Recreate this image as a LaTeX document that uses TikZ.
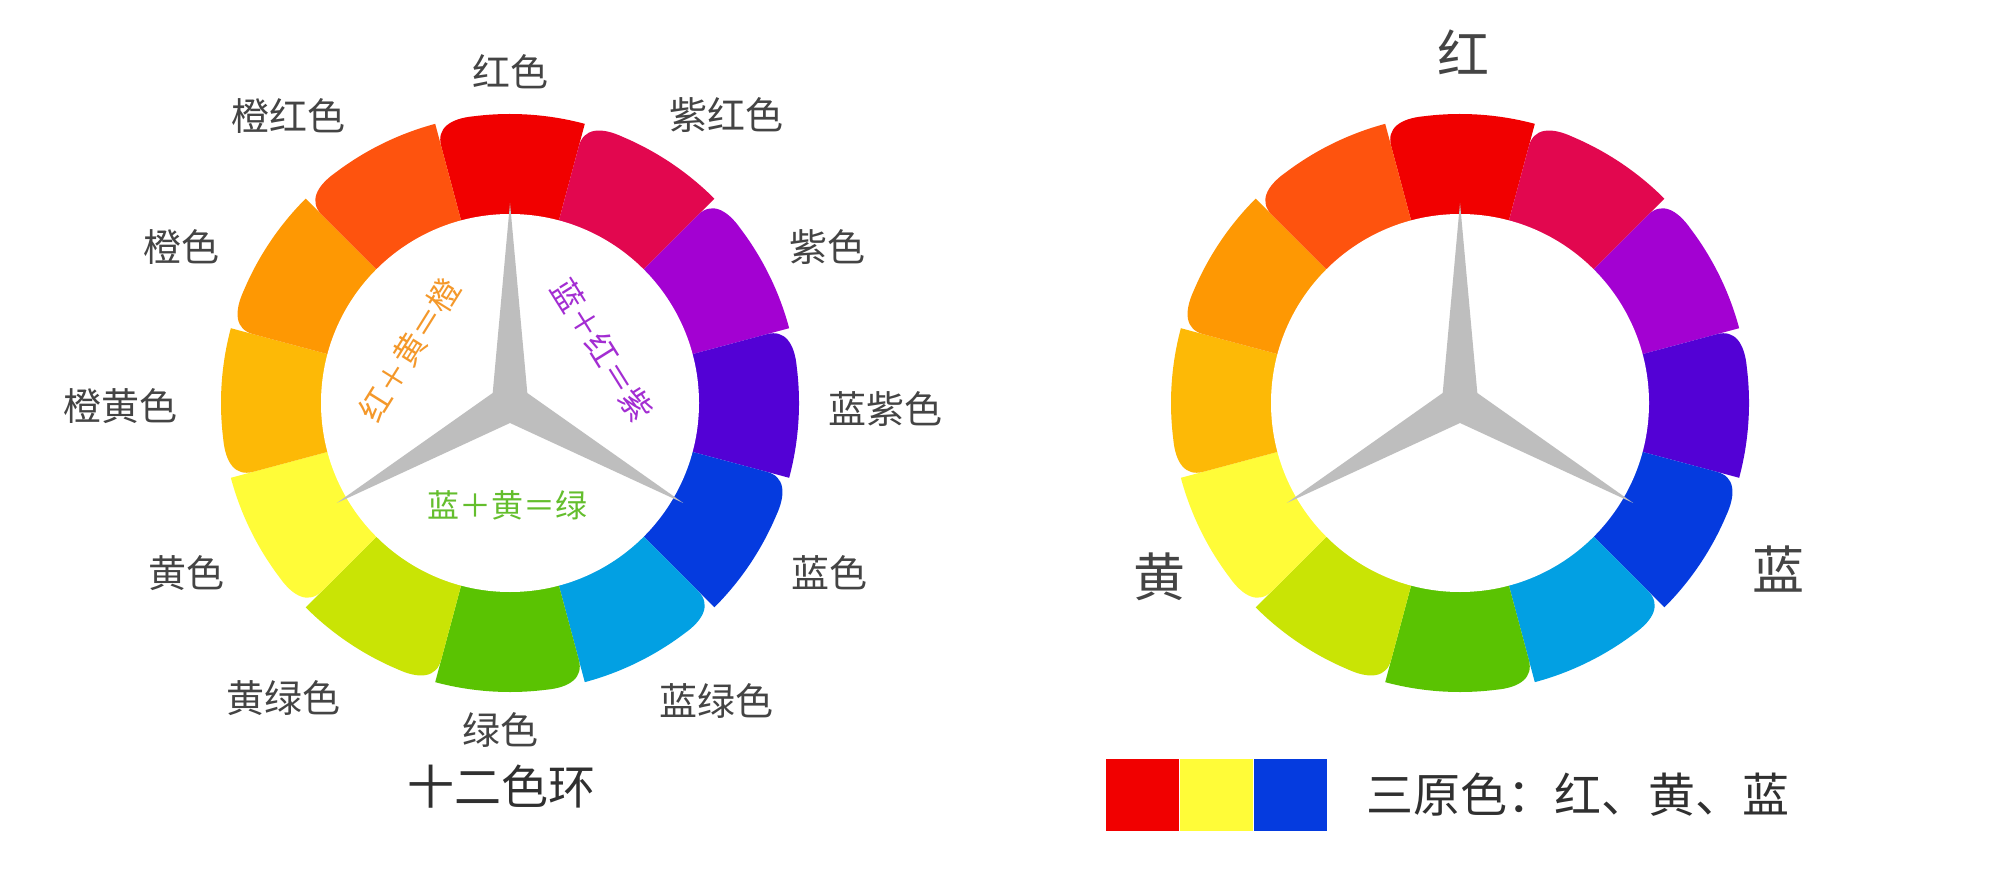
\documentclass[tikz,border=0pt]{standalone}
\usepackage{fontspec}
\setmainfont{Noto Sans CJK SC}
\usetikzlibrary{positioning}
\definecolor{wheelred}{RGB}{241,0,0}
\definecolor{wheelrose}{RGB}{226,7,79}
\definecolor{wheelpurple}{RGB}{163,1,210}
\definecolor{wheelviolet}{RGB}{83,1,213}
\definecolor{wheelblue}{RGB}{5,59,223}
\definecolor{wheelcyan}{RGB}{2,160,227}
\definecolor{wheelgreen}{RGB}{90,195,2}
\definecolor{wheellime}{RGB}{201,228,5}
\definecolor{wheelyellow}{RGB}{255,252,56}
\definecolor{wheelamber}{RGB}{253,185,6}
\definecolor{wheelorange}{RGB}{254,152,3}
\definecolor{wheelvermil}{RGB}{254,83,14}
\definecolor{stargray}{RGB}{190,190,190}
\definecolor{labelgray}{RGB}{68,68,68}
\definecolor{titlegray}{RGB}{48,48,48}
\definecolor{mixorange}{RGB}{244,152,42}
\definecolor{mixpurple}{RGB}{163,45,210}
\definecolor{mixgreen}{RGB}{100,190,45}

\begin{document}
\begin{tikzpicture}[
  x=0.5pt, y=0.5pt,
  node distance=19.5pt,
  petal/.style={fill=#1},
  hub/.style={fill=white},
  spokes/.style={fill=stargray},
  hue/.style={inner sep=0pt, text=labelgray, font=\fontsize{19}{22}\selectfont},
  primary/.style={inner sep=0pt, text=labelgray, font=\fontsize{26}{30}\selectfont},
  caption/.style={inner sep=0pt, text=titlegray, font=\fontsize{23.5}{28}\selectfont},
  mixlabel/.style={inner sep=0pt, text=#1, font=\fontsize{16}{19}\selectfont},
  swatch/.style={inner sep=0pt, minimum width=36.5pt, minimum height=36pt, fill=#1},
]
  \useasboundingbox (0,0) rectangle (2016,874);

  % the two wheels
  \foreach \cx in {510,1460} {
    \begin{scope}[shift={(\cx,471)}]
      \foreach \a/\c in {90/wheelred,60/wheelrose,30/wheelpurple,0/wheelviolet,-30/wheelblue,-60/wheelcyan,-90/wheelgreen,-120/wheellime,-150/wheelyellow,180/wheelamber,150/wheelorange,120/wheelvermil}
        \fill[petal=\c] (0,0) -- (\a-15:289) arc[start angle=\a-15, end angle=\a+7, radius=289]
          .. controls (\a+12:291) and (\a+15:284) .. (\a+15:266) -- cycle;
      \fill[hub] (0,0) circle[radius=189];
      \fill[spokes] (90:200) -- (30:20) -- (-30:200) -- (-90:20) -- (210:200) -- (150:20) -- cycle;
    \end{scope}
  }

  % twelve names round the left wheel
  \node[hue] (red)    at (510,802) {红色};
  \node[hue] (rose)   at (726,759) {紫红色};
  \node[hue] (purple) at (827,627) {紫色};
  \node[hue] (violet) at (885,465) {蓝紫色};
  \node[hue] (blue)   at (829,301) {蓝色};
  \node[hue] (cyan)   at (716,173) {蓝绿色};
  \node[hue] (green)  at (500,144) {绿色};
  \node[hue] (lime)   at (283,176) {黄绿色};
  \node[hue] (yellow) at (186,301) {黄色};
  \node[hue] (amber)  at (120,468) {橙黄色};
  \node[hue] (orange) at (181,627) {橙色};
  \node[hue] (vermil) at (288,758) {橙红色};

  \node[caption] (ring) at (501,87) {十二色环};

  % mixing rules inside the left wheel
  \node[mixlabel=mixorange, rotate=58]  (mixo) at (410,524) {红＋黄＝橙};
  \node[mixlabel=mixpurple, rotate=-58] (mixp) at (602,524) {蓝＋红＝紫};
  \node[mixlabel=mixgreen]              (mixg) at (507,369) {蓝＋黄＝绿};

  % primaries round the right wheel
  \node[primary] (pred)    at (1463,822) {红};
  \node[primary] (pyellow) at (1159,297) {黄};
  \node[primary] (pblue)   at (1778,305) {蓝};

  % legend
  \node[swatch=wheelred]                          (swred)    at (1142.5,79) {};
  \node[swatch=wheelyellow, right=0pt of swred]    (swyellow) {};
  \node[swatch=wheelblue, right=0pt of swyellow]   (swblue)   {};
  \node[caption, right=of swblue] (legend) {三原色：红、黄、蓝};
\end{tikzpicture}
\end{document}
